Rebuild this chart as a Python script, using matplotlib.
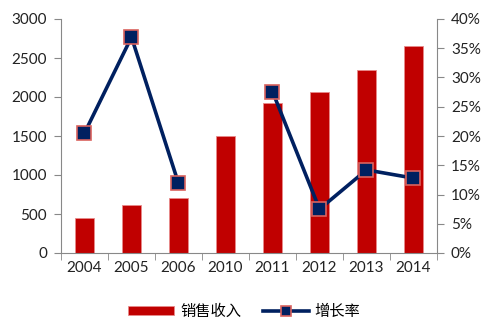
import matplotlib
matplotlib.use("Agg")
import matplotlib.pyplot as plt
import numpy as np
from matplotlib.ticker import FuncFormatter, FixedLocator

plt.rcParams['font.family'] = ['Lato', 'Noto Sans CJK SC', 'DejaVu Sans']

years = ['2004', '2005', '2006', '2010', '2011', '2012', '2013', '2014']
revenue = [455, 620, 700, 1500, 1925, 2065, 2350, 2655]
growth = [20.5, 36.9, 11.9, np.nan, 27.6, 7.5, 14.2, 12.8]

fig = plt.figure(figsize=(4.89, 3.28), dpi=100)
ax = fig.add_axes([61/489, 1-253/328, (437-61)/489, (253-19)/328])
x = np.arange(len(years))
ax.bar(x, revenue, width=0.4, color='#C00000', edgecolor='#E88A8A', linewidth=0.6, label='销售收入')
ax.set_xlim(-0.5, len(years)-0.5)
ax.set_ylim(0, 3000)
ax.set_yticks(np.arange(0, 3001, 500))
ax.set_xticks(x)
ax.set_xticklabels(years)
ax.xaxis.set_minor_locator(FixedLocator(np.arange(-0.5, len(years), 1)))
ax.tick_params(axis='x', which='major', length=0, pad=6, labelsize=11, colors='#222222')
ax.tick_params(axis='x', which='minor', length=5, color='#888888')
ax.tick_params(axis='y', length=5, color='#888888', labelsize=11, labelcolor='#222222', pad=5)
for s in ['top', 'right']:
    ax.spines[s].set_visible(False)
for s in ['left', 'bottom']:
    ax.spines[s].set_color('#888888')

ax2 = ax.twinx()
ax2.plot(x, growth, color='#002060', linewidth=2.6, marker='s', markersize=10,
         markerfacecolor='#002060', markeredgecolor='#D9625E', markeredgewidth=1.2, label='增长率')
ax2.set_ylim(0, 40)
ax2.set_yticks(np.arange(0, 41, 5))
ax2.yaxis.set_major_formatter(FuncFormatter(lambda v, p: f'{int(v)}%'))
ax2.tick_params(axis='y', length=5, color='#888888', labelsize=11, labelcolor='#222222', pad=5)
for s in ['top', 'left', 'bottom']:
    ax2.spines[s].set_visible(False)
ax2.spines['right'].set_color('#888888')

h1, l1 = ax.get_legend_handles_labels()
h2, l2 = ax2.get_legend_handles_labels()
fig.legend(h1 + h2, l1 + l2, loc='center', bbox_to_anchor=(0.5, 1-312/328), ncol=2,
           frameon=False, fontsize=11, handlelength=3.0, handleheight=0.5,
           columnspacing=1.4, handletextpad=0.4, markerscale=0.65)

fig.savefig('out.png', dpi=100)
